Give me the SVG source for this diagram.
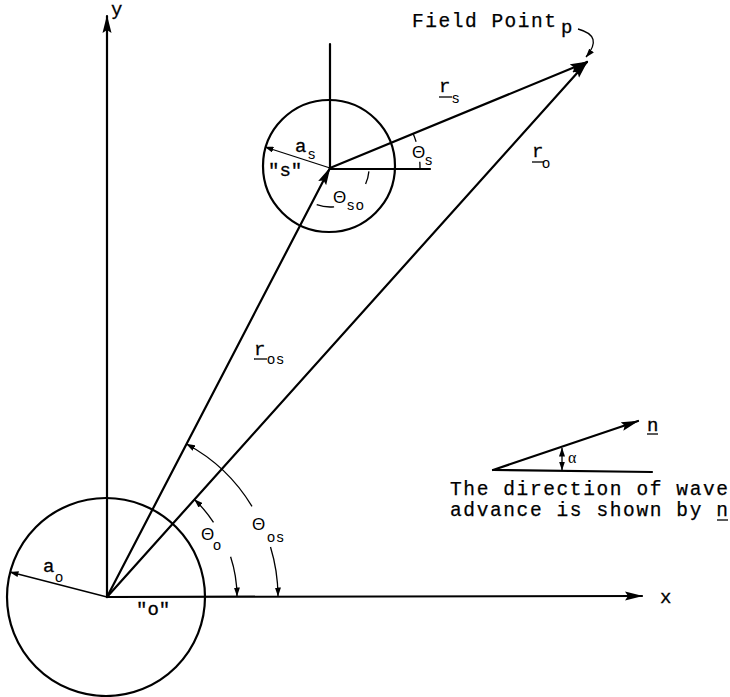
<svg xmlns="http://www.w3.org/2000/svg" width="730" height="697" viewBox="0 0 730 697">
<style>
.ln{stroke:#000;stroke-width:2.2;fill:none;stroke-linecap:round}
.th{stroke:#000;stroke-width:1.3;fill:none}
.tw{font-family:"Liberation Mono","Courier New",monospace;font-size:19px;fill:#000;stroke:#000;stroke-width:0.3}
.tl{font-family:"Liberation Mono","Courier New",monospace;font-size:19.5px;fill:#000;stroke:#000;stroke-width:0.25}
.sb{font-family:"Liberation Sans",Arial,sans-serif;font-size:14.5px;fill:#000;letter-spacing:1.5px}
.tt{font-family:"Liberation Sans",Arial,sans-serif;font-size:17px;fill:#000}
.al{font-family:"Liberation Serif","Times New Roman",serif;font-size:16px;fill:#000}
</style>
<defs>
<marker id="big" viewBox="0 0 18 10" markerWidth="18" markerHeight="10" refX="17" refY="5" orient="auto" markerUnits="userSpaceOnUse"><path d="M0,0.5 L18,5 L0,9.5 L3,5 z" fill="#000"/></marker>
<marker id="sm" viewBox="0 0 9 6" markerWidth="9" markerHeight="6" refX="8.5" refY="3" orient="auto" markerUnits="userSpaceOnUse"><path d="M0,0 L9,3 L0,6 z" fill="#000"/></marker>
<marker id="smr" viewBox="0 0 9 6" markerWidth="9" markerHeight="6" refX="0.5" refY="3" orient="auto" markerUnits="userSpaceOnUse"><path d="M9,0 L0,3 L9,6 z" fill="#000"/></marker>
</defs>
<rect width="730" height="697" fill="#fff"/>

<g id="circle-o"><circle cx="106" cy="597" r="99" class="ln" stroke-width="1.8"/></g>
<g id="circle-s"><circle cx="329" cy="166" r="66" class="ln" stroke-width="1.8"/></g>

<g id="connectors">
<line x1="107" y1="597" x2="107" y2="16" class="ln" marker-end="url(#big)"/>
<line x1="107" y1="597" x2="642" y2="596" class="ln" marker-end="url(#big)"/>
<line x1="107" y1="597" x2="330" y2="168" class="ln" marker-end="url(#big)"/>
<line x1="107" y1="597" x2="587" y2="62" class="ln" marker-end="url(#big)"/>
<line x1="330" y1="168" x2="587" y2="62" class="ln" marker-end="url(#big)"/>
<line x1="330" y1="44" x2="330" y2="168" class="ln"/>
<line x1="330" y1="169" x2="430" y2="169" class="ln"/>
<line x1="330" y1="168" x2="265" y2="147" class="th" marker-end="url(#sm)"/>
<line x1="107" y1="597" x2="10" y2="572" class="th" marker-end="url(#sm)"/>
<path d="M578,29 Q604,36 586,57" class="th" marker-end="url(#sm)"/>
<path d="M252,506.4 A171,171 0 0 0 186.5,444" class="th" marker-end="url(#sm)"/>
<path d="M270.5,547 A171,171 0 0 1 278,596" class="th" marker-end="url(#sm)"/>
<path d="M213.5,522.4 A130,130 0 0 0 194.5,499.5" class="th" marker-end="url(#sm)"/>
<path d="M230.6,556.8 A130,130 0 0 1 237,596" class="th" marker-end="url(#sm)"/>
<path d="M368.9,171.4 A39,39 0 0 1 365.6,183.9" class="th"/>
<path d="M334.1,206.8 A39,39 0 0 1 316.7,204.6" class="th"/>
<path d="M413.1,133.4 A90,90 0 0 1 416.1,141.7" class="th"/>
<path d="M419.8,161.7 A90,90 0 0 1 420,168" class="th"/>
<line x1="493" y1="470" x2="638" y2="421" class="ln" stroke-width="2" marker-end="url(#big)"/>
<line x1="493" y1="470" x2="652" y2="472" class="ln" stroke-width="1.6"/>
<line x1="562" y1="448" x2="562" y2="470" class="th" marker-start="url(#smr)" marker-end="url(#sm)"/>
</g>

<g id="labels">
<text class="tw" x="111" y="15">y</text>
<text class="tw" x="660" y="603">x</text>
<text class="tl" x="412" y="27" textLength="144" lengthAdjust="spacing">Field Point</text>
<text class="tw" x="561" y="33">p</text>

<text class="tw" x="439" y="92">r</text><line x1="439" y1="97" x2="452" y2="97" class="th"/><text class="sb" x="452" y="103">s</text>
<text class="tw" x="532" y="157">r</text><line x1="532" y1="162" x2="544" y2="162" class="th"/><text class="sb" x="542" y="168">o</text>
<text class="tw" x="254" y="355">r</text><line x1="254" y1="359" x2="267" y2="359" class="th"/><text class="sb" x="267" y="364">os</text>

<text class="tw" x="295" y="152">a</text><text class="sb" x="308" y="159">s</text>
<text class="tw" x="268" y="176">"s"</text>
<text class="tt" x="412" y="158">Θ</text><text class="sb" x="425" y="165">s</text>
<text class="tt" x="333" y="203">Θ</text><text class="sb" x="347" y="210">so</text>

<text class="tt" x="201" y="540">Θ</text><text class="sb" x="213" y="550">o</text>
<text class="tt" x="252" y="530">Θ</text><text class="sb" x="267" y="542">os</text>
<text class="tw" x="43" y="572">a</text><text class="sb" x="55" y="582">o</text>
<text class="tw" x="136" y="615">"o"</text>

<text class="tw" x="647" y="431">n</text><line x1="647" y1="434" x2="658" y2="434" class="th"/>
<text class="al" x="568" y="463">α</text>
<text class="tl" x="450" y="495" textLength="278" lengthAdjust="spacing">The direction of wave</text>
<text class="tl" x="450" y="516" textLength="278" lengthAdjust="spacing">advance is shown by n</text>
<line x1="717" y1="520" x2="728" y2="520" class="th"/>
</g>
</svg>
